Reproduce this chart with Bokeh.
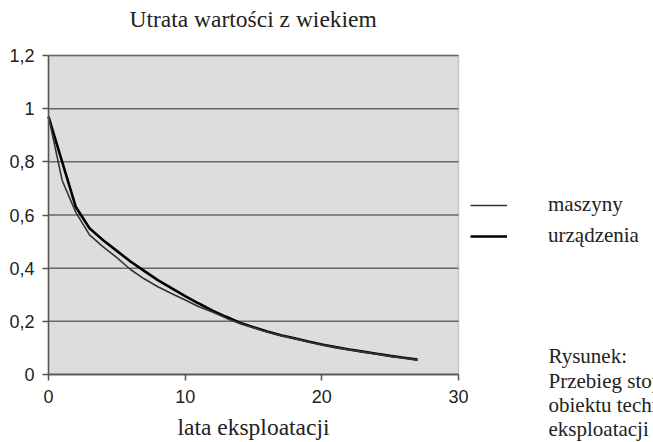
from bokeh.plotting import figure
from bokeh.models import Range1d, FixedTicker, Title, BoxAnnotation, Legend, LegendItem
from bokeh.core.properties import value
from bokeh.embed import file_html
from bokeh.resources import INLINE

# ---- data ----
years = list(range(0, 28))
maszyny = [0.97, 0.73, 0.61, 0.525, 0.48, 0.44, 0.395, 0.36, 0.33, 0.305,
           0.28, 0.255, 0.235, 0.212, 0.192, 0.176, 0.16, 0.147, 0.135, 0.123,
           0.112, 0.102, 0.093, 0.085, 0.077, 0.069, 0.062, 0.055]
urzadzenia = [0.97, 0.80, 0.63, 0.55, 0.505, 0.465, 0.425, 0.39, 0.355, 0.325,
              0.295, 0.267, 0.24, 0.217, 0.195, 0.178, 0.162, 0.148, 0.136, 0.124,
              0.113, 0.103, 0.094, 0.086, 0.078, 0.07, 0.063, 0.056]
y_ticks = [0, 0.2, 0.4, 0.6, 0.8, 1.0, 1.2]
y_tick_labels = ["0", "0,2", "0,4", "0,6", "0,8", "1", "1,2"]
x_ticks = [0, 10, 20, 30]
series_names = ["maszyny", "urządzenia"]

title_text = "Utrata wartości z wiekiem"
x_label = "lata eksploatacji"
caption = ["Rysunek:", "Przebieg stopnia zużycia", "obiektu technicznego w czasie", "eksploatacji"]

SERIF = "Liberation Serif"
SANS = "Liberation Sans"
TXT = "#222222"

# ---- geometry (pixels) ----
W, H = 653, 442
X0, Y_TOP = 48, 55                # page px of year 0 and of value 1.2
FRAME_TOP = 35                    # space above the drawing area for the title
PX_PER_YEAR = 410 / 30.0
PX_PER_UNIT = 319 / 1.2
frame_h = H - FRAME_TOP

def to_x(px):
    return (px - X0) / PX_PER_YEAR

def to_y(py):
    return 1.2 - (py - Y_TOP) / PX_PER_UNIT

p = figure(output_backend="svg", toolbar_location=None,
           x_range=Range1d(to_x(0), to_x(W)), y_range=Range1d(to_y(H), to_y(FRAME_TOP)),
           frame_width=W, frame_height=frame_h,
           min_border_left=0, min_border_right=0, min_border_top=FRAME_TOP, min_border_bottom=0)
p.background_fill_color = "white"
p.border_fill_color = "white"
p.outline_line_color = None

p.title = Title(text=title_text, align="left", offset=129, text_font=SERIF,
                text_font_size="23.5px", text_font_style="normal", text_color=TXT,
                standoff=7)

# plot area
p.add_layout(BoxAnnotation(left=0, right=30, bottom=0, top=1.2, level="underlay",
                           fill_color="#dddddd", fill_alpha=1.0,
                           line_color="#666666", line_width=1.5))
p.xgrid.grid_line_color = None
p.ygrid.grid_line_color = None
p.segment(x0=[0] * len(y_ticks), y0=y_ticks, x1=[30] * len(y_ticks), y1=y_ticks,
          line_color="#666666", line_width=1.5)

for ax in (p.xaxis[0], p.yaxis[0]):
    ax.axis_line_color = "#555555"
    ax.axis_line_width = 1.5
    ax.major_tick_line_color = "#555555"
    ax.major_tick_line_width = 1.5
    ax.major_tick_out = 6
    ax.major_tick_in = 0
    ax.minor_tick_line_color = None
    ax.major_label_text_font = SANS
    ax.major_label_text_font_size = "18px"
    ax.major_label_text_color = TXT

p.yaxis.fixed_location = 0
p.yaxis.bounds = (0, 1.2)
p.yaxis.ticker = FixedTicker(ticks=y_ticks)
p.yaxis.major_label_overrides = {t: l for t, l in zip(y_ticks, y_tick_labels)}
p.yaxis.major_label_standoff = 8

p.xaxis.fixed_location = 0
p.xaxis.bounds = (0, 30)
p.xaxis.ticker = FixedTicker(ticks=x_ticks)
p.xaxis.major_label_standoff = 9
p.xaxis.axis_label = x_label
p.xaxis.axis_label_text_font = SERIF
p.xaxis.axis_label_text_font_size = "23.5px"
p.xaxis.axis_label_text_font_style = "normal"
p.xaxis.axis_label_text_color = TXT
p.xaxis.axis_label_standoff = 8

r_u = p.line(years, urzadzenia, line_color="black", line_width=2.6)
r_m = p.line(years, maszyny, line_color="#333333", line_width=1.6)

legend = Legend(items=[LegendItem(label=series_names[0], renderers=[r_m]),
                       LegendItem(label=series_names[1], renderers=[r_u])],
                location=(470, H - 248), orientation="vertical",
                glyph_width=37, glyph_height=24, label_height=24,
                label_standoff=41, spacing=6, padding=0, margin=0,
                border_line_color=None, background_fill_alpha=0,
                label_text_font=SERIF, label_text_font_size="21px",
                label_text_color=TXT)
p.add_layout(legend, "center")

cap_base = [355, 380, 404, 428]
p.text(x=[to_x(548)] * len(caption), y=[to_y(b) for b in cap_base], text=caption,
       text_font=value(SERIF), text_font_size="21px", text_color=TXT,
       text_baseline="alphabetic", text_align="left")

open("out.html", "w").write(file_html(p, INLINE))
